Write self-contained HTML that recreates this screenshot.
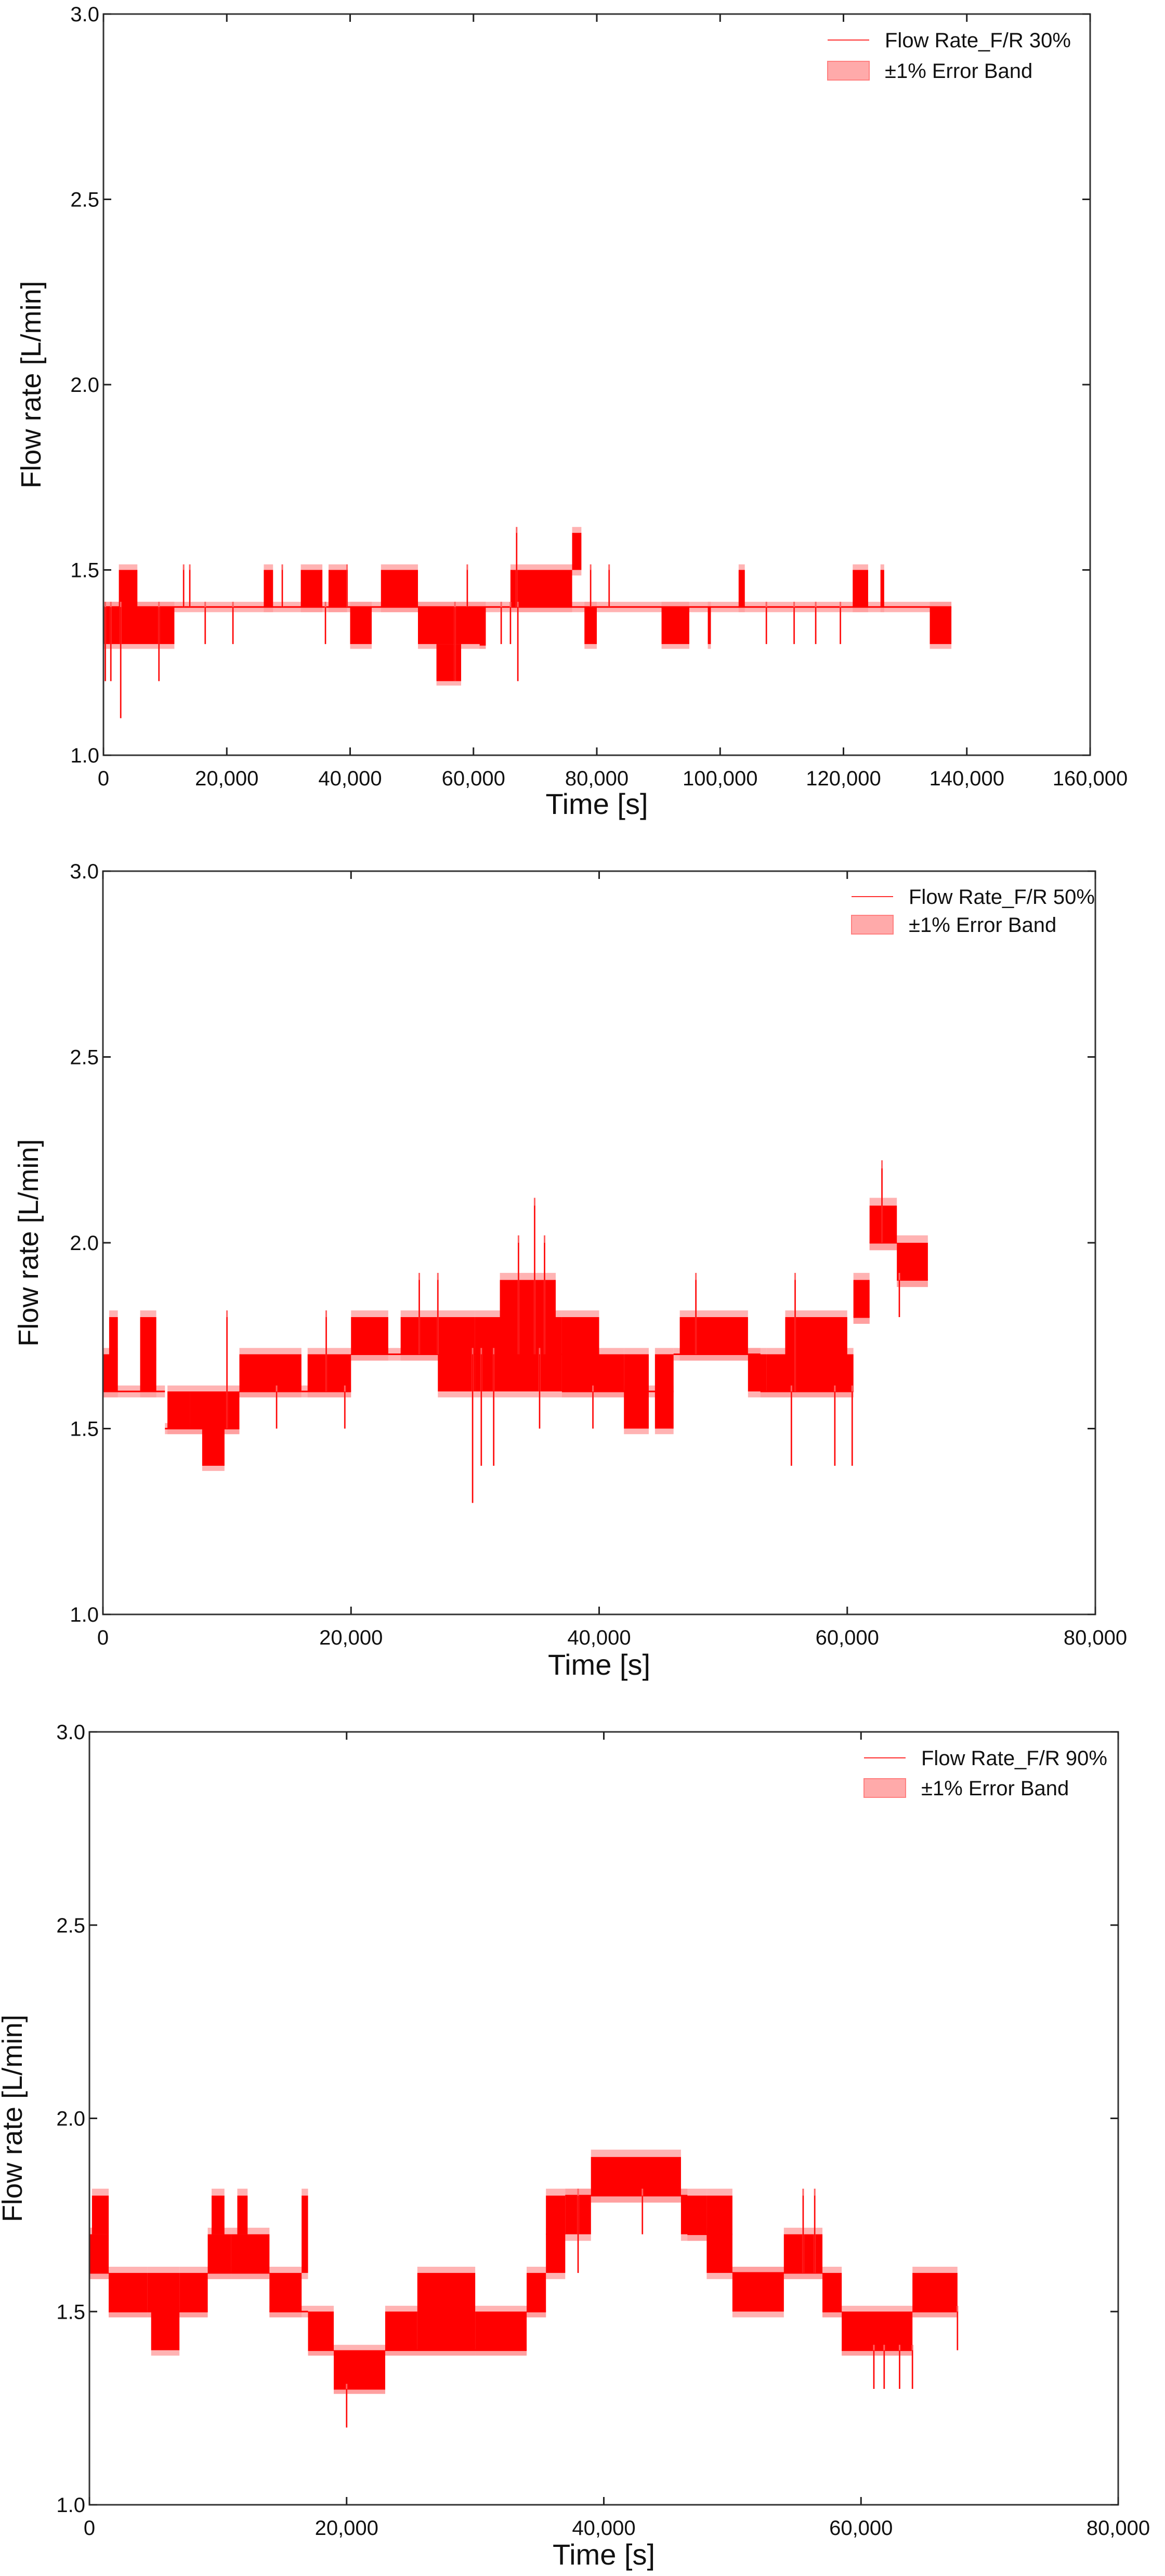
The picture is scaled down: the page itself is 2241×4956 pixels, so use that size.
<!DOCTYPE html>
<html><head><meta charset="utf-8"><style>
html,body{margin:0;padding:0;background:#fff;}
svg{display:block;}
text{font-family:"Liberation Sans","DejaVu Sans",sans-serif;fill:#111;}
</style></head><body>
<svg id="fig" width="2241" height="4956" viewBox="0 0 2241 4956" xmlns="http://www.w3.org/2000/svg"></svg>
<script>
// ---- Chart 1 data (F/R 30%) : dense segments [t0, t1, low, high]
const segs30 = [[0,11500,1.3,1.4],[2500,5500,1.4,1.5],[26000,27500,1.4,1.5],[32000,35500,1.4,1.5],[36500,39500,1.4,1.5],
 [40000,43500,1.3,1.4],[45000,51000,1.4,1.5],[51000,62000,1.3,1.4],[54000,58000,1.2,1.3],[61000,62000,1.3,1.3],
 [66000,76000,1.4,1.5],[76000,77500,1.5,1.6],[78000,80000,1.3,1.4],[90500,95000,1.3,1.4],[98000,98500,1.3,1.4],
 [103000,104000,1.4,1.5],[121500,124000,1.4,1.5],[126000,126600,1.4,1.5],[134000,137500,1.3,1.4]];
const base30 = [[0,137500,1.4]];
const spikes30 = [[300,1.2],[1200,1.2],[2800,1.1],[9000,1.2],[13000,1.5],[14000,1.5],[16500,1.3],[21000,1.3],[29000,1.5],[36000,1.3],[39500,1.5],[57000,1.2],[59000,1.5],[64500,1.3],[66000,1.3],[67000,1.6],[67200,1.2],[79000,1.5],[82000,1.5],[107500,1.3],[112000,1.3],[115500,1.3],[119500,1.3]];
const xTicks30 = [0,20000,40000,60000,80000,100000,120000,140000,160000];
// ---- Chart 2 data (F/R 50%)
const segs50 = [[0,1200,1.6,1.7],[500,1200,1.7,1.8],[3000,4300,1.6,1.7],[3000,4300,1.7,1.8],[5200,7000,1.5,1.6],[7000,11000,1.5,1.6],[8000,9800,1.4,1.5],
 [11000,16000,1.6,1.7],[16500,20000,1.6,1.7],[20000,23000,1.7,1.8],[24000,27000,1.7,1.8],[27000,30000,1.6,1.8],[30000,37000,1.6,1.8],[32000,36500,1.8,1.9],
 [37000,40000,1.6,1.8],[40000,42000,1.6,1.7],[42000,44000,1.5,1.7],[44500,46000,1.5,1.7],[46500,52000,1.7,1.8],[52000,53500,1.6,1.7],
 [53500,60500,1.6,1.7],[55000,60000,1.7,1.8],[60500,61800,1.8,1.9],[61800,64000,2.0,2.1],[64000,66500,1.9,2.0]];
const base50 = [[0,5000,1.6],[5000,11000,1.5],[11000,16000,1.6],[16000,20000,1.6],[20000,37000,1.7],[37000,46000,1.6],[46000,53000,1.7],[53000,60500,1.6],[60500,61800,1.8],[61800,64000,2.0],[64000,66500,1.9]];
const spikes50 = [[0,1.5],[10000,1.8],[14000,1.5],[18000,1.8],[19500,1.5],[25500,1.9],[27000,1.9],[29800,1.3],[30500,1.4],[31500,1.4],[33500,2.0],[34800,2.1],[35200,1.5],[35600,2.0],[39500,1.5],[47800,1.9],[55500,1.4],[55800,1.9],[59000,1.4],[60400,1.4],[62800,2.2],[64200,1.8]];
const xTicks50 = [0,20000,40000,60000,80000];
// ---- Chart 3 data (F/R 90%)
const segs90 = [[0,1500,1.6,1.7],[200,1500,1.7,1.8],[1500,4500,1.5,1.6],[4500,7000,1.5,1.6],[4800,7000,1.4,1.5],[7000,9200,1.5,1.6],[9200,11000,1.6,1.7],[9500,10500,1.7,1.8],
 [11000,14000,1.6,1.7],[11500,12300,1.7,1.8],[14000,16500,1.5,1.6],[16500,17000,1.6,1.8],[17000,19000,1.4,1.5],[19000,23000,1.3,1.4],[23000,25500,1.4,1.5],
 [25500,30000,1.4,1.6],[30000,34000,1.4,1.5],[34000,35500,1.5,1.6],[35500,37000,1.6,1.8],[37000,39000,1.7,1.8],[39000,46000,1.8,1.9],[46000,48000,1.7,1.8],
 [48000,50000,1.6,1.8],[50000,54000,1.5,1.6],[54000,57000,1.6,1.7],[57000,58500,1.5,1.6],[58500,64000,1.4,1.5],[64000,67500,1.5,1.6]];
const base90 = [[0,1500,1.6],[1500,4500,1.5],[4500,9200,1.5],[9200,11000,1.6],[11000,14000,1.6],[14000,17000,1.5],[17000,19000,1.4],[19000,23000,1.3],[23000,34000,1.4],[34000,35500,1.5],[35500,37000,1.7],[37000,39000,1.8],[39000,46500,1.8],[46500,50000,1.7],[50000,54000,1.6],[54000,57000,1.6],[57000,58500,1.5],[58500,64000,1.4],[64000,67500,1.5]];
const spikes90 = [[20000,1.2],[61000,1.3],[61800,1.3],[63000,1.3],[64000,1.3],[67500,1.4],[43000,1.7],[55500,1.8],[56400,1.8],[38000,1.6]];
const xTicks90 = [0,20000,40000,60000,80000];
const yTicks = [1.0,1.5,2.0,2.5,3.0];

const NS = "http://www.w3.org/2000/svg";
const fig = document.getElementById('fig');
function mk(tag, attrs, parent){const e=document.createElementNS(NS,tag);for(const k in attrs)e.setAttribute(k,attrs[k]);(parent||fig).appendChild(e);return e;}
function fmt(v){return v.toLocaleString('en-US');}

function chart(cfg){
  const {L,R,T,B,xmax,segs,base,spikes,xTicks,label,ytx,xty,id} = cfg;
  const g = mk('g',{});
  
  
  const X = t => L + t/xmax*(R-L);
  const Y = v => B - (v-1)/2*(B-T);
  // error bands
  const gb = mk('g',{fill:'#ff9a9a','fill-opacity':'0.75'},g);
  
  
  base.forEach(s=>{ mk('rect',{x:X(s[0]),y:Y(s[2]*1.01),width:X(s[1])-X(s[0]),height:Y(s[2]*0.99)-Y(s[2]*1.01)},gb); });
  segs.forEach(s=>{ mk('rect',{x:X(s[0]),y:Y(s[3]*1.01),width:Math.max(2,X(s[1])-X(s[0])),height:Y(s[2]*0.99)-Y(s[3]*1.01)},gb); });
  // series
  const gs = mk('g',{fill:'#ff0000'},g);
  
  
  base.forEach(s=>{ mk('rect',{x:X(s[0]),y:Y(s[2])-1.5,width:X(s[1])-X(s[0]),height:3},gs); });
  segs.forEach(s=>{ mk('rect',{x:X(s[0]),y:Y(s[3]),width:Math.max(2,X(s[1])-X(s[0])),height:Math.max(3,Y(s[2])-Y(s[3]))},gs); });
  spikes.forEach(p=>{
    let ref = base.find(b=>p[0]>=b[0]&&p[0]<=b[1]); const bv = ref?ref[2]:1.5;
    const a=Math.min(bv,p[1]), b2=Math.max(bv,p[1]);
    mk('rect',{x:X(p[0])-1.5,y:Y(b2*1.01),width:3,height:Y(a)-Y(b2*1.01),fill:'#ff6060'},gs);
    mk('rect',{x:X(p[0])-1,y:Y(b2),width:2,height:Y(a)-Y(b2)},gs);
  });
  // axes frame
  const fr = mk('rect',{x:L,y:T,width:R-L,height:B-T,fill:'none',stroke:'#333','stroke-width':3},g);
  
  
  xTicks.forEach(t=>{
    mk('line',{x1:X(t),x2:X(t),y1:B,y2:B-15,stroke:'#222','stroke-width':3},g);
    mk('line',{x1:X(t),x2:X(t),y1:T,y2:T+15,stroke:'#222','stroke-width':3},g);
    const tx = mk('text',{x:X(t),y:B+58,'text-anchor':'middle','font-size':40},g);
    tx.textContent = fmt(t);
    
    
  });
  yTicks.forEach(v=>{
    mk('line',{x1:L,x2:L+15,y1:Y(v),y2:Y(v),stroke:'#222','stroke-width':3},g);
    mk('line',{x1:R,x2:R-15,y1:Y(v),y2:Y(v),stroke:'#222','stroke-width':3},g);
    const tx = mk('text',{x:L-8,y:Y(v)+14,'text-anchor':'end','font-size':40},g);
    tx.textContent = v.toFixed(1);
    
    
  });
  const xt = mk('text',{x:(L+R)/2,y:xty+20,'text-anchor':'middle','font-size':56},g);
  xt.textContent='Time [s]';
  
  
  const yt = mk('text',{x:0,y:0,'text-anchor':'middle','font-size':54,transform:`translate(${ytx+18},${(T+B)/2}) rotate(-90)`},g);
  yt.textContent='Flow rate [L/min]';
  
  
  // legend
  const lg = mk('g',{},g);
  
  
  const {lx,ly1,ly2} = cfg;
  mk('line',{x1:lx,x2:lx+80,y1:ly1,y2:ly1,stroke:'#ff3030','stroke-width':2},lg);
  const t1 = mk('text',{x:lx+110,y:ly1+14,'font-size':40},lg);
  t1.textContent = label;
  
  
  mk('rect',{x:lx,y:ly2-18,width:80,height:36,fill:'#ffaaaa',stroke:'#ff8080','stroke-width':2},lg);
  const t2 = mk('text',{x:lx+110,y:ly2+14,'font-size':40},lg);
  t2.textContent = '±1% Error Band';
  
  
}
chart({id:'chart-fr-30',L:199,R:2097,T:27,B:1453,xmax:160000,segs:segs30,base:base30,spikes:spikes30,xTicks:xTicks30,label:'Flow Rate_F/R 30%',ytx:60,xty:1546,lx:1592,ly1:77,ly2:136});
chart({id:'chart-fr-50',L:198,R:2107,T:1676,B:3106,xmax:80000,segs:segs50,base:base50,spikes:spikes50,xTicks:xTicks50,label:'Flow Rate_F/R 50%',ytx:55,xty:3202,lx:1638,ly1:1725,ly2:1779});
chart({id:'chart-fr-90',L:172,R:2151,T:3332,B:4819,xmax:80000,segs:segs90,base:base90,spikes:spikes90,xTicks:xTicks90,label:'Flow Rate_F/R 90%',ytx:24,xty:4914,lx:1662,ly1:3382,ly2:3440});
</script>
</body></html>
